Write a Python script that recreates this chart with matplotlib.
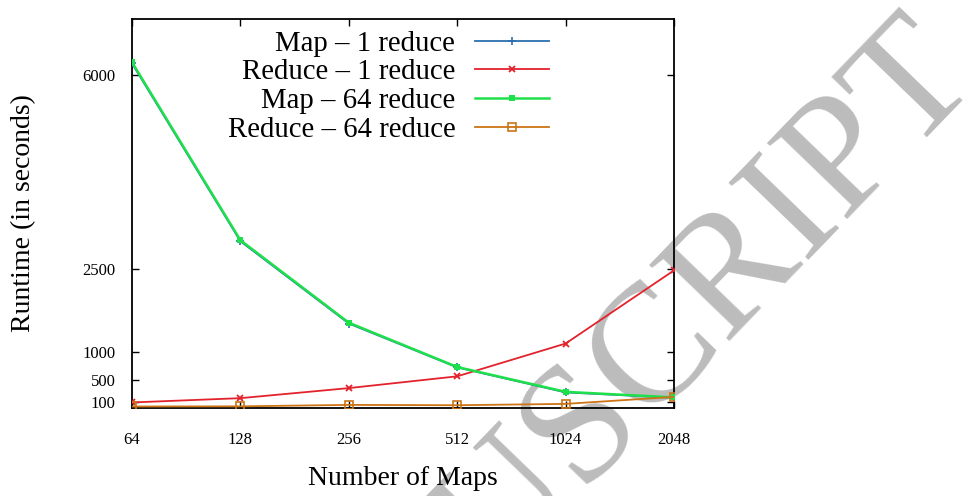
import numpy as np
import matplotlib
matplotlib.use('Agg')
import matplotlib.pyplot as plt

plt.rcParams['font.family'] = ['Liberation Serif', 'DejaVu Serif']

# Data
maps = [64, 128, 256, 512, 1024, 2048]
map_1reduce = [6200, 3000, 1520, 730, 280, 185]
reduce_1reduce = [100, 177, 358, 570, 1160, 2476]
map_64reduce = [6222, 3019, 1535, 738, 291, 190]
reduce_64reduce = [27, 30, 56, 50, 74, 200]

yticks = [100, 500, 1000, 2500, 6000]

fig = plt.figure(figsize=(9.75, 4.96), dpi=100)
ax = fig.add_axes([132/975, 1 - 408/496, (674 - 132)/975, (408 - 19)/496])
ax.set_facecolor('none')

ax.plot(maps, map_1reduce, color='#2c6fb0', lw=1.3, marker='+', ms=6, mew=1.2,
        label='Map \u2013 1 reduce', zorder=3)
ax.plot(maps, reduce_1reduce, color='#e3222c', lw=1.3, marker='x', ms=5, mew=1.3,
        label='Reduce \u2013 1 reduce', zorder=3)
ax.plot(maps, map_64reduce, color='#1ee04a', lw=1.8, marker='s', ms=5, mew=0,
        label='Map \u2013 64 reduce', zorder=4)
ax.plot(maps, reduce_64reduce, color='#cc7416', lw=1.3, marker='s', ms=6, mew=1.2,
        mfc='none', label='Reduce \u2013 64 reduce', zorder=5)

ax.set_xscale('log', base=2)
ax.set_xlim(64, 2048)
ax.set_ylim(0, 7000)
ax.set_xticks(maps)
ax.set_xticklabels([str(m) for m in maps])
ax.minorticks_off()
ax.set_yticks(yticks)
ax.set_yticklabels([str(v) for v in yticks])
ax.tick_params(direction='in', length=5, width=1, top=True, right=True,
               labelsize=12, color='black')
ax.tick_params(axis='x', pad=17)
ax.tick_params(axis='y', pad=12)
for s in ax.spines.values():
    s.set_linewidth(1.3)

ax.set_xlabel('Number of Maps', fontsize=20, labelpad=13)
ax.set_ylabel('Runtime (in seconds)', fontsize=20, labelpad=33)

leg = ax.legend(loc='upper left', bbox_to_anchor=(0.155, 1.0), frameon=False,
                markerfirst=False, fontsize=20.7, labelspacing=0.09,
                handlelength=2.55, handletextpad=0.7, borderaxespad=0.0)
for t in leg.get_texts():
    t.set_ha('right')
leg._legend_box.align = 'right'

# watermark
fig.text(981/975, 1 - 81/496, 'ACCEPTED MANUSCRIPT', color='#bcbcbc',
         fontsize=122, rotation=46, rotation_mode='anchor',
         ha='right', va='baseline', zorder=-1)

fig.savefig('out.png', dpi=100)
